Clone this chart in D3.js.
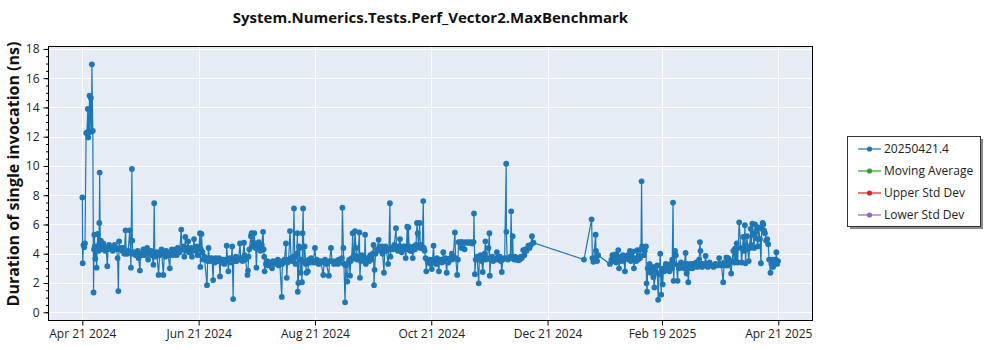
<!DOCTYPE html>
<html>
<head>
<meta charset="utf-8">
<script src="https://cdn.jsdelivr.net/npm/d3@7"></script>
<style>
  body { margin: 0; background: #fff; }
  svg text { font-family: "Open Sans", "Noto Sans", "DejaVu Sans", sans-serif; }
</style>
</head>
<body>
<svg id="chart" width="1000" height="350"></svg>
<script>
// Benchmark samples, one array per month: [day of month (fractional), duration in ns]
const apr2024 = [[21.0,7.85],[21.2,3.35],[21.6,4.6],[22.0,4.45],[22.4,4.7],[23.0,12.25],[23.4,12.3],[23.9,13.9],[24.1,11.95],[24.4,12.3],[24.8,14.8],[25.0,12.35],[25.5,14.65],[25.9,12.35],[26.0,16.95],[26.5,12.4],[26.9,1.35],[27.1,4.3],[27.3,5.3],[27.5,4.5],[27.8,3.65],[28.2,4.4],[28.5,3.05],[28.8,4.3],[29.1,5.35],[29.5,4.2],[29.7,4.6],[29.9,6.1],[30.1,9.55],[30.4,4.4],[30.7,4.9]];
const may2024 = [[1,4.3],[1.5,4.5],[2,4.7],[3,4.2],[3.5,4.4],[4.1,3.15],[4.5,4.3],[5,4.6],[6,4.4],[6.5,4.5],[7,4.2],[8,4.6],[8.5,4.4],[9,4.3],[9.5,3.7],[9.9,1.45],[10.3,4.85],[10.7,4.3],[11,4.4],[12,4.2],[12.5,4.4],[13,4.0],[13.7,5.6],[14,4.1],[14.5,4.0],[15,4.2],[15.9,5.6],[16.2,4.1],[16.5,3.05],[17,9.8],[17.2,4.9],[17.5,4.0],[18,4.1],[19,3.9],[20,4.2],[20.5,3.7],[21.2,2.85],[21.5,3.9],[22,4.0],[23,4.3],[23.5,3.9],[24,4.1],[25,4.4],[25.5,3.6],[26,4.0],[27,4.2],[27.5,3.9],[28.3,3.25],[28.7,7.45],[29,4.0],[29.5,3.8],[30,4.1],[31,2.55],[31.5,3.9]];
const jun2024 = [[1,4.0],[1.5,4.3],[2.5,2.55],[3,4.0],[3.5,3.8],[4,4.2],[5,3.9],[5.9,3.0],[6.2,4.0],[7,4.3],[7.5,3.9],[8,4.1],[9,4.3],[9.5,3.9],[10,4.4],[11,4.1],[11.9,5.65],[12.2,4.3],[13,4.5],[13.5,3.8],[14,5.15],[14.5,4.2],[15,4.4],[15.5,4.85],[16,4.1],[17,4.4],[17.5,3.8],[18.1,4.3],[18.6,5.0],[19,4.2],[20,4.5],[20.5,3.9],[21.2,4.4],[21.7,5.4],[21.9,3.1],[22.2,4.3],[22.5,5.35],[23,4.1],[23.5,3.6],[24,3.8],[25.4,1.85],[25.7,3.5],[26.2,4.4],[26.6,3.7],[27,3.5],[28,3.7],[28.6,2.2],[28.9,3.6],[29.5,3.4],[30,3.7]];
const jul2024 = [[1,3.5],[1.7,3.7],[2.2,2.45],[2.6,3.6],[3,3.4],[4,3.6],[4.5,3.3],[5,3.6],[5.5,3.5],[5.7,4.55],[6.6,2.8],[6.9,3.5],[7.5,3.7],[8,3.4],[8.6,4.5],[9.1,0.9],[9.4,3.6],[10,3.5],[10.5,3.8],[11,3.5],[12,3.7],[12.7,4.7],[13.1,3.6],[13.5,3.7],[14,3.5],[14.8,4.75],[15.2,3.9],[15.6,3.6],[16.6,2.55],[16.9,2.85],[17.2,3.8],[17.6,4.3],[18.4,5.2],[18.8,5.4],[19.2,4.5],[19.6,4.8],[20.2,5.4],[20.5,4.5],[20.9,4.4],[21.3,3.05],[21.7,4.6],[22,4.4],[22.5,4.8],[23,4.5],[23.5,4.2],[24.1,4.6],[24.8,5.5],[25.1,4.3],[25.4,3.8],[25.6,2.8],[26.3,3.3],[27,3.5],[27.5,3.2],[28,3.4],[29,3.3],[29.5,3.0],[30,3.5],[31,3.3]];
const aug2024 = [[1,3.4],[1.5,3.6],[2,3.2],[2.5,3.5],[3.6,1.05],[3.9,3.3],[4.5,3.5],[5,3.6],[5.8,4.7],[6.2,2.35],[6.6,3.4],[7.2,3.6],[7.9,5.55],[8.5,3.7],[9,3.5],[9.5,3.8],[10,7.1],[10.4,3.8],[10.8,3.3],[11.5,4.0],[11.8,5.4],[12,1.4],[12.3,2.0],[12.7,4.5],[13,4.4],[13.4,2.7],[13.8,3.6],[14.2,2.05],[14.5,5.4],[14.8,7.1],[15.2,3.5],[15.6,4.5],[16.2,3.3],[16.5,2.7],[17.3,2.8],[17.8,3.6],[18.5,3.4],[19,3.7],[20,3.4],[21,4.4],[21.5,3.4],[22,3.6],[23,3.3],[24,3.5],[25.4,2.55],[25.8,3.4],[26.3,3.6],[27,3.3],[28.3,2.5],[28.7,3.5],[29.4,4.4],[30,3.5],[31,3.3]];
const sep2024 = [[1,3.5],[2,3.3],[2.5,3.6],[3,3.4],[4.1,3.7],[4.4,7.15],[4.9,4.4],[5.2,3.3],[5.8,0.68],[6.2,3.2],[7.0,2.1],[7.5,3.4],[8,3.6],[8.4,2.5],[8.8,3.5],[9.3,3.7],[9.8,5.4],[10.2,3.7],[10.6,3.9],[11,5.55],[11.5,4.4],[12,3.6],[12.5,3.8],[13.3,5.45],[13.6,2.35],[14,3.5],[14.5,3.9],[15.5,3.7],[16,3.5],[16.3,5.3],[16.7,3.3],[17.5,3.7],[18.5,3.5],[19,3.9],[19.8,3.6],[20.3,4.0],[20.7,4.6],[21.0,1.85],[21.3,2.9],[21.8,4.0],[22.5,4.3],[23.4,4.95],[23.8,4.4],[24.3,4.2],[25,4.5],[25.5,4.0],[26.2,2.7],[26.6,4.3],[27,4.5],[27.5,4.2],[28.4,3.3],[28.8,4.3],[29.3,7.45],[29.6,3.8],[30,4.4]];
const oct2024 = [[1,4.3],[1.6,4.6],[2.5,5.75],[2.8,4.4],[3.5,4.2],[4,4.5],[4.6,5.0],[5,4.4],[5.5,4.1],[6,4.5],[6.6,4.3],[7.1,4.5],[7.6,3.7],[8,4.4],[8.4,5.85],[8.7,4.3],[9.0,5.8],[9.4,4.5],[10,4.2],[10.5,4.4],[11,4.2],[11.3,3.7],[11.8,4.5],[12.5,4.3],[13.0,4.6],[13.5,6.1],[13.9,5.4],[14.3,4.5],[14.9,6.1],[15.3,4.4],[15.8,4.6],[16.3,4.4],[16.8,7.6],[17.1,4.4],[17.5,4.2],[18,3.7],[18.4,2.8],[18.8,3.6],[19.5,3.4],[20,3.6],[20.7,3.3],[21.3,2.95],[21.7,3.6],[22.2,4.55],[22.6,3.5],[23,3.6],[23.5,3.3],[24,3.7],[25.0,2.8],[25.3,3.5],[26,3.6],[26.7,3.4],[27.3,4.1],[27.7,3.5],[28.5,3.7],[29.1,2.7],[29.5,3.6],[30,3.4],[31,3.7],[31.8,4.0]];
const nov2024 = [[1,3.6],[1.5,3.8],[2.4,5.45],[2.8,3.7],[3.6,2.55],[4,3.6],[4.3,4.8],[5,4.75],[5.5,4.8],[5.9,4.4],[6.2,4.8],[7,4.75],[7.5,4.3],[8,4.8],[9,4.75],[9.5,4.8],[10,4.75],[11,4.8],[11.5,4.7],[12.2,4.8],[12.4,6.75],[12.9,2.6],[13.3,3.6],[14,3.8],[14.9,1.98],[15.2,3.6],[15.8,3.9],[16.5,3.5],[17.0,2.75],[17.5,3.7],[18,4.0],[18.4,4.85],[18.8,3.6],[19.5,3.7],[20,4.4],[20.5,5.4],[20.7,2.5],[21.2,3.6],[22,3.8],[22.5,3.5],[23,3.7],[24,3.6],[24.4,4.1],[25.2,3.6],[26,3.8],[26.5,3.5],[27.0,2.75],[27.5,3.6],[28.5,3.7],[29.3,10.15],[29.4,5.5],[29.8,3.7],[30.2,3.6]];
const dec2024 = [[1,3.7],[1.5,3.8],[1.9,6.9],[2.3,3.7],[2.7,5.2],[3,3.7],[3.5,3.6],[4,3.8],[4.5,3.6],[5,3.7],[5.6,3.55],[6,3.7],[6.5,3.6],[7,3.8],[7.5,3.7],[8.2,4.25],[8.8,3.9],[9.3,4.3],[10,4.2],[10.9,4.55],[11.5,4.4],[12.2,4.6],[12.8,5.2],[13.6,4.75]];
const jan2025 = [[9.1,3.6],[13.1,6.35],[13.5,3.7],[14.0,3.45],[15.2,5.3],[15.4,4.2],[15.7,3.8],[16,3.5],[16.5,3.9],[22.7,3.3],[23.5,3.6],[24,3.9],[24.5,3.5],[25,3.7],[25.5,3.95],[26,3.4],[26.5,3.7],[27.1,4.25],[27.5,3.0],[28,3.6],[28.5,3.8],[29,3.5],[29.5,3.9],[30,3.6],[30.6,2.8],[31,3.7]];
const feb2025 = [[1,3.9],[1.5,3.6],[2.2,4.2],[2.7,3.5],[3.2,3.8],[3.9,4.15],[4.3,3.0],[4.8,3.7],[5.5,3.5],[6,4.25],[6.5,3.6],[7,3.9],[7.5,3.7],[8,4.3],[8.3,8.95],[8.6,4.5],[9,4.4],[9.5,3.9],[10,4.2],[10.6,4.5],[10.9,1.98],[11.2,1.4],[11.5,3.0],[12,2.9],[12.5,3.3],[13,2.7],[13.5,3.1],[14,2.9],[14.5,2.4],[15,1.7],[15.5,3.1],[16,2.7],[16.5,3.2],[17,0.85],[17.5,2.6],[18.1,4.0],[18.6,1.2],[19.0,2.9],[19.4,1.9],[19.8,3.0],[20.3,2.8],[21,3.3],[21.5,2.9],[22,3.1],[23,2.8],[23.5,3.3],[24,3.0],[24.4,3.6],[24.8,7.5],[25.1,2.15],[25.5,3.3],[25.9,4.2],[26.3,3.9],[27.2,2.15],[27.5,3.2],[28,3.0]];
const mar2025 = [[1,3.4],[1.5,3.1],[2,3.3],[2.5,3.0],[3.4,4.05],[3.9,2.65],[4.3,3.3],[4.8,2.05],[5.2,3.0],[5.7,3.2],[6.2,3.3],[7,3.0],[7.5,3.3],[8,3.2],[9,3.4],[9.5,3.1],[10,3.3],[10.5,3.6],[10.9,4.8],[11.2,4.2],[11.6,3.3],[12,3.1],[12.5,3.3],[13.3,3.2],[13.9,3.85],[14.3,3.3],[15,3.1],[15.5,3.2],[16,3.4],[17,3.2],[18,3.1],[19,3.3],[20,3.2],[21,3.7],[21.5,3.3],[22.2,3.2],[23.1,2.05],[23.6,3.4],[24.3,3.2],[24.8,3.75],[25.3,3.2],[25.7,3.7],[26.4,3.3],[27.3,2.65],[27.7,3.5],[28.4,4.2],[29.0,3.4],[29.3,4.35],[29.8,3.5],[30.2,4.7],[30.7,3.4],[31.5,6.15]];
const apr2025 = [[1.3,4.4],[1.8,3.4],[2.6,5.15],[3.0,4.2],[3.5,5.95],[3.8,3.35],[4.2,4.5],[4.6,5.2],[5,4.3],[5.5,3.5],[6,4.4],[6.5,5.7],[6.8,4.6],[7.4,6.05],[7.8,5.3],[8.3,4.4],[8.8,6.0],[9.3,5.5],[9.7,5.05],[10.2,4.5],[10.7,5.8],[11.4,5.0],[11.9,3.35],[12.3,5.7],[12.8,6.1],[13.1,6.0],[13.5,5.6],[14,5.4],[14.6,4.9],[15.2,5.0],[15.7,4.65],[16.2,3.6],[16.9,2.7],[17.4,3.3],[17.9,3.6],[18.3,3.1],[18.8,3.5],[19.3,3.3],[19.6,3.6],[20,4.1],[20.4,3.3],[20.9,3.5]];

// [year, month index, samples]
const months = [
  [2024, 3, apr2024], [2024, 4, may2024], [2024, 5, jun2024], [2024, 6, jul2024],
  [2024, 7, aug2024], [2024, 8, sep2024], [2024, 9, oct2024], [2024, 10, nov2024],
  [2024, 11, dec2024], [2025, 0, jan2025], [2025, 1, feb2025], [2025, 2, mar2025],
  [2025, 3, apr2025]
];

const xTickDates = ["2024-04-21", "2024-06-21", "2024-08-21", "2024-10-21", "2024-12-21", "2025-02-19", "2025-04-21"];
const xTickLabels = ["Apr 21 2024", "Jun 21 2024", "Aug 21 2024", "Oct 21 2024", "Dec 21 2024", "Feb 19 2025", "Apr 21 2025"];
const yTickValues = [0, 2, 4, 6, 8, 10, 12, 14, 16, 18];

const legendItems = [
  { label: "20250421.4", color: "#1f77b4" },
  { label: "Moving Average", color: "#2ca02c" },
  { label: "Upper Std Dev", color: "#d62728" },
  { label: "Lower Std Dev", color: "#9467bd" }
];

const DAY = 864e5;
const points = [];
months.forEach(([yr, mo, arr]) => {
  arr.forEach(([day, v]) => {
    points.push({ t: new Date(Date.UTC(yr, mo, 1) + (day - 1) * DAY), v });
  });
});

const plot = { left: 48, right: 813, top: 46, bottom: 320 };
const svg = d3.select("#chart");

const x = d3.scaleUtc()
  .domain([new Date(Date.UTC(2024, 3, 3)), new Date(Date.UTC(2025, 4, 9, 5))])
  .range([plot.left, plot.right]);
const y = d3.scaleLinear()
  .domain([-0.53, 18.2])
  .range([plot.bottom, plot.top]);

// plot background
svg.append("rect")
  .attr("x", plot.left).attr("y", plot.top)
  .attr("width", plot.right - plot.left).attr("height", plot.bottom - plot.top)
  .attr("fill", "#e5ecf6");

const tickDates = xTickDates.map(s => new Date(s + "T00:00:00Z"));

// grid
const grid = svg.append("g").attr("stroke", "#fff").attr("stroke-width", 1);
grid.selectAll("line.gy").data(yTickValues).join("line")
  .attr("x1", plot.left).attr("x2", plot.right)
  .attr("y1", d => Math.round(y(d)) + 0.5).attr("y2", d => Math.round(y(d)) + 0.5);
grid.selectAll("line.gx").data(tickDates).join("line")
  .attr("y1", plot.top).attr("y2", plot.bottom)
  .attr("x1", d => Math.round(x(d)) + 0.5).attr("x2", d => Math.round(x(d)) + 0.5);

// series
svg.append("clipPath").attr("id", "plotclip").append("rect")
  .attr("x", plot.left).attr("y", plot.top)
  .attr("width", plot.right - plot.left).attr("height", plot.bottom - plot.top);
const series = svg.append("g").attr("clip-path", "url(#plotclip)");
series.append("path")
  .datum(points)
  .attr("fill", "none")
  .attr("stroke", "#1f77b4")
  .attr("stroke-width", 1.2)
  .attr("d", d3.line().x(d => x(d.t)).y(d => y(d.v)));
series.selectAll("circle").data(points).join("circle")
  .attr("cx", d => x(d.t)).attr("cy", d => y(d.v))
  .attr("r", 2.9)
  .attr("fill", "#1f77b4");

// frame
svg.append("rect")
  .attr("x", plot.left + 0.5).attr("y", plot.top + 0.5)
  .attr("width", plot.right - plot.left - 1).attr("height", plot.bottom - plot.top)
  .attr("fill", "none").attr("stroke", "#000").attr("stroke-width", 1);

// y axis: major and minor ticks
const yAxis = svg.append("g").attr("transform", `translate(${plot.left + 0.5},0)`)
  .call(d3.axisLeft(y).tickValues(yTickValues).tickSize(5).tickPadding(4).tickFormat(d3.format("d")));
svg.append("g").attr("transform", `translate(${plot.left + 0.5},0)`)
  .call(d3.axisLeft(y).tickValues(d3.range(0, 18.01, 0.5)).tickSize(2.5).tickFormat(""))
  .call(g => g.select(".domain").remove());

const xAxis = svg.append("g").attr("transform", `translate(0,${plot.bottom + 0.5})`)
  .call(d3.axisBottom(x).tickValues(tickDates).tickSize(5).tickPadding(4)
    .tickFormat((d, i) => xTickLabels[i]));

[yAxis, xAxis].forEach(g => {
  g.select(".domain").remove();
  g.selectAll(".tick line").attr("stroke", "#000");
  g.selectAll(".tick text").attr("fill", "#222").style("font-size", "12px");
});

// title
svg.append("text")
  .attr("x", 430.5).attr("y", 23)
  .attr("text-anchor", "middle")
  .style("font-size", "15px").style("font-weight", "bold")
  .attr("fill", "#111")
  .text("System.Numerics.Tests.Perf_Vector2.MaxBenchmark");

// y axis title
svg.append("text")
  .attr("transform", "translate(19,174) rotate(-90)")
  .attr("text-anchor", "middle")
  .style("font-size", "16px").style("font-weight", "bold")
  .attr("fill", "#111")
  .text("Duration of single invocation (ns)");

// legend
const lg = svg.append("g");
lg.append("rect").attr("x", 850).attr("y", 139).attr("width", 133).attr("height", 90).attr("fill", "#8a8a8a");
lg.append("rect").attr("x", 847.5).attr("y", 136.5).attr("width", 133).attr("height", 90)
  .attr("fill", "#fff").attr("stroke", "#333").attr("stroke-width", 1);
const rows = lg.selectAll("g.item").data(legendItems).join("g")
  .attr("transform", (d, i) => `translate(0,${149 + i * 22})`);
rows.append("line").attr("x1", 858).attr("x2", 881).attr("y1", 0).attr("y2", 0)
  .attr("stroke", d => d.color).attr("stroke-width", 1.2);
rows.append("circle").attr("cx", 869.5).attr("cy", 0).attr("r", 2.6).attr("fill", d => d.color);
rows.append("text").attr("x", 884).attr("y", 0).attr("dy", "0.35em")
  .style("font-size", "12px").attr("fill", "#222")
  .text(d => d.label);
</script>
</body>
</html>
